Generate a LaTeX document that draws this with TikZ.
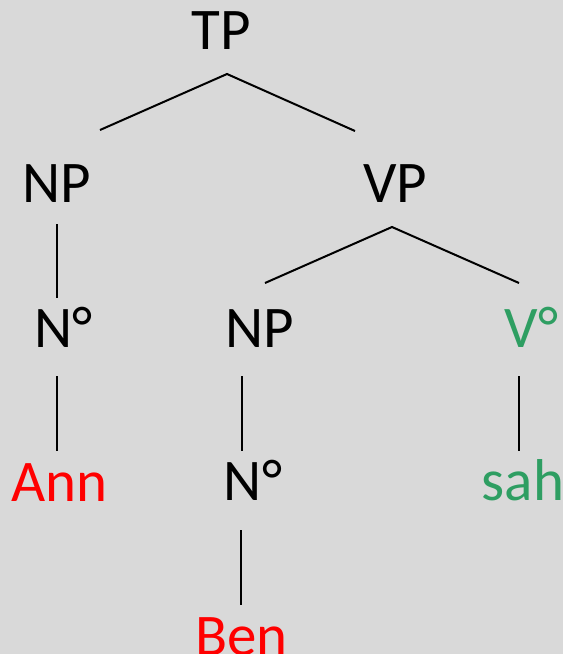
\documentclass[tikz,border=0pt]{standalone}
\usepackage{fontspec}
\setmainfont{Carlito}
\definecolor{bggray}{RGB}{217,217,217}
\definecolor{wordred}{RGB}{255,0,0}
\definecolor{verbgreen}{RGB}{46,158,98}
\tikzset{
  lbl/.style={anchor=base, inner sep=0pt, font=\fontsize{59}{59}\selectfont},
  branch/.style={line width=2pt, black, line cap=butt}
}
\begin{document}
\begin{tikzpicture}[x=1pt, y=-1pt]
  % canvas
  \fill[bggray] (0,0) rectangle (563,654);
  \useasboundingbox (0,0) rectangle (563,654);

  % labels (base anchored on the text baseline)
  \node[lbl] (tp)   at (221.5,49)  {TP};
  \node[lbl] (np1)  at (57,202)    {NP};
  \node[lbl] (vp)   at (395,202)   {VP};
  \node[lbl] (n1)   at (63.5,347)  {N°};
  \node[lbl] (np2)  at (259.5,347) {NP};
  \node[lbl, text=verbgreen] (v)    at (531.5,347) {V°};
  \node[lbl, text=wordred]   (ann)  at (59.5,501)  {Ann};
  \node[lbl] (n2)   at (253,500)   {N°};
  \node[lbl, text=verbgreen] (sah)  at (523,500)   {sah};
  \node[lbl, text=wordred]   (ben)  at (241.5,655) {Ben};

  % branch end points
  \coordinate (tp-top) at (227,74);
  \coordinate (np1-in) at (100,130);
  \coordinate (vp-in)  at (355,131);
  \coordinate (np1-out) at (57,224);
  \coordinate (n1-in)  at (57,298);
  \coordinate (vp-top) at (392,227);
  \coordinate (np2-in) at (265,283);
  \coordinate (v-in)   at (519,283);
  \coordinate (n1-out) at (57,376);
  \coordinate (ann-in) at (57,451);
  \coordinate (np2-out) at (241.5,376);
  \coordinate (n2-in)  at (241.5,451);
  \coordinate (v-out)  at (519,376);
  \coordinate (sah-in) at (519,451);
  \coordinate (n2-out) at (241,530);
  \coordinate (ben-in) at (241,605);

  % branches
  \draw[branch] (np1-in) -- (tp-top) -- (vp-in);
  \draw[branch] (np1-out) -- (n1-in);
  \draw[branch] (np2-in) -- (vp-top) -- (v-in);
  \draw[branch] (n1-out) -- (ann-in);
  \draw[branch] (np2-out) -- (n2-in);
  \draw[branch] (v-out) -- (sah-in);
  \draw[branch] (n2-out) -- (ben-in);
\end{tikzpicture}
\end{document}
